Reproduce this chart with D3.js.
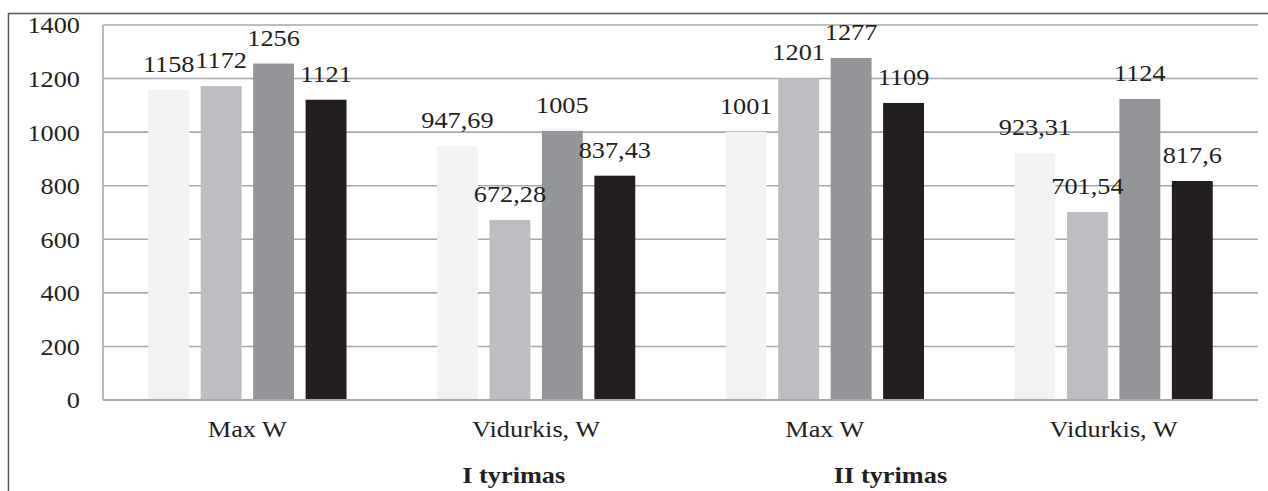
<!DOCTYPE html>
<html>
<head>
<meta charset="utf-8">
<script src="https://cdn.jsdelivr.net/npm/d3@7"></script>
<style>
  html, body { margin: 0; padding: 0; background: #fff; }
  svg { display: block; }
  svg text { font-family: "Liberation Serif", "Times New Roman", serif !important; fill: #231f20; }
</style>
</head>
<body>
<svg id="chart" width="1268" height="491"></svg>
<script>
const categories = ["Max W", "Vidurkis, W", "Max W", "Vidurkis, W"];
const groupLabels = ["I tyrimas", "II tyrimas"];
const seriesNames = ["Serija 1", "Serija 2", "Serija 3", "Serija 4"];
const series1 = [1158, 947.69, 1001, 923.31];
const series2 = [1172, 672.28, 1201, 701.54];
const series3 = [1256, 1005, 1277, 1124];
const series4 = [1121, 837.43, 1109, 817.6];
const yTicks = [0, 200, 400, 600, 800, 1000, 1200, 1400];
const colors = ["#f1f2f4", "#bcbdc0", "#939598", "#231f20"];

const FS = 23.5, SX = 1.12;
const allSeries = [series1, series2, series3, series4];
const svg = d3.select("#chart");
const m = { left: 103, right: 1258, top: 25, bottom: 400 };

const y = d3.scaleLinear().domain([0, 1400]).range([m.bottom, m.top]);
const x0 = d3.scaleBand().domain(d3.range(categories.length)).range([m.left, m.right]);
const x1 = d3.scaleBand().domain(d3.range(seriesNames.length))
  .range([0, x0.bandwidth()]).paddingInner(0.22).paddingOuter(0.8625);

// outer frame
svg.append("line").attr("x1", 8.5).attr("x2", 8.5).attr("y1", 13).attr("y2", 491)
  .attr("stroke", "#58595b").attr("stroke-width", 1.5);
svg.append("line").attr("x1", 8).attr("x2", 1268).attr("y1", 13.5).attr("y2", 13.5)
  .attr("stroke", "#58595b").attr("stroke-width", 1.5);

// gridlines
svg.append("g").selectAll("line").data(yTicks.filter(d => d > 0)).join("line")
  .attr("x1", m.left).attr("x2", m.right)
  .attr("y1", d => y(d)).attr("y2", d => y(d))
  .attr("stroke", "#a7a9ac").attr("stroke-width", 1.6);

// y axis labels
const yAxis = d3.axisLeft(y).tickValues(yTicks).tickSize(0).tickPadding(0).tickFormat(d => String(d));
const yg = svg.append("g").attr("transform", `translate(80,0)`).call(yAxis);
yg.attr("font-family", null).attr("font-size", null);
yg.select(".domain").remove();
yg.selectAll("text").attr("font-size", FS).attr("x", 0).attr("dy", "0.34em")
  .attr("transform", `scale(${SX},1)`);

// bars
const groups = svg.append("g").selectAll("g").data(categories.map((c, i) => i)).join("g")
  .attr("transform", i => `translate(${x0(i)},0)`);
groups.selectAll("rect").data(i => allSeries.map((s, k) => ({ k, v: s[i] }))).join("rect")
  .attr("x", d => x1(d.k)).attr("width", x1.bandwidth())
  .attr("y", d => y(d.v)).attr("height", d => y(0) - y(d.v))
  .attr("fill", d => colors[d.k]);

// value labels
groups.selectAll("text.val").data(i => allSeries.map((s, k) => ({ k, v: s[i] }))).join("text")
  .attr("class", "val")
  .attr("transform", d => `translate(${x1(d.k) + x1.bandwidth() / 2},${y(d.v) - 18}) scale(${SX},1)`)
  .attr("text-anchor", "middle").attr("font-size", FS)
  .text(d => String(d.v).replace(".", ","));

// plot frame: left line and bottom axis
svg.append("line").attr("x1", m.left).attr("x2", m.left).attr("y1", m.top).attr("y2", m.bottom)
  .attr("stroke", "#a7a9ac").attr("stroke-width", 1.6);
svg.append("line").attr("x1", m.left).attr("x2", m.right).attr("y1", m.bottom).attr("y2", m.bottom)
  .attr("stroke", "#a7a9ac").attr("stroke-width", 2.2);

// category labels
const xAxis = d3.axisBottom(x0).tickSize(0).tickPadding(0).tickFormat(i => categories[i]);
const xg = svg.append("g").attr("transform", `translate(0,${m.bottom})`).call(xAxis);
xg.attr("font-family", null).attr("font-size", null);
xg.select(".domain").remove();
xg.selectAll("text").attr("font-size", FS).attr("dy", 0).attr("y", 37)
  .attr("transform", `scale(${SX},1)`);

// group labels (placed as in the original layout)
const gx = [x0(1) + 122, x0(2) + 210];
svg.append("g").selectAll("text").data(groupLabels).join("text")
  .attr("transform", (d, i) => `translate(${gx[i]},483) scale(${SX},1)`)
  .attr("text-anchor", "middle").attr("font-size", FS).attr("font-weight", "bold")
  .text(d => d);
</script>
</body>
</html>
